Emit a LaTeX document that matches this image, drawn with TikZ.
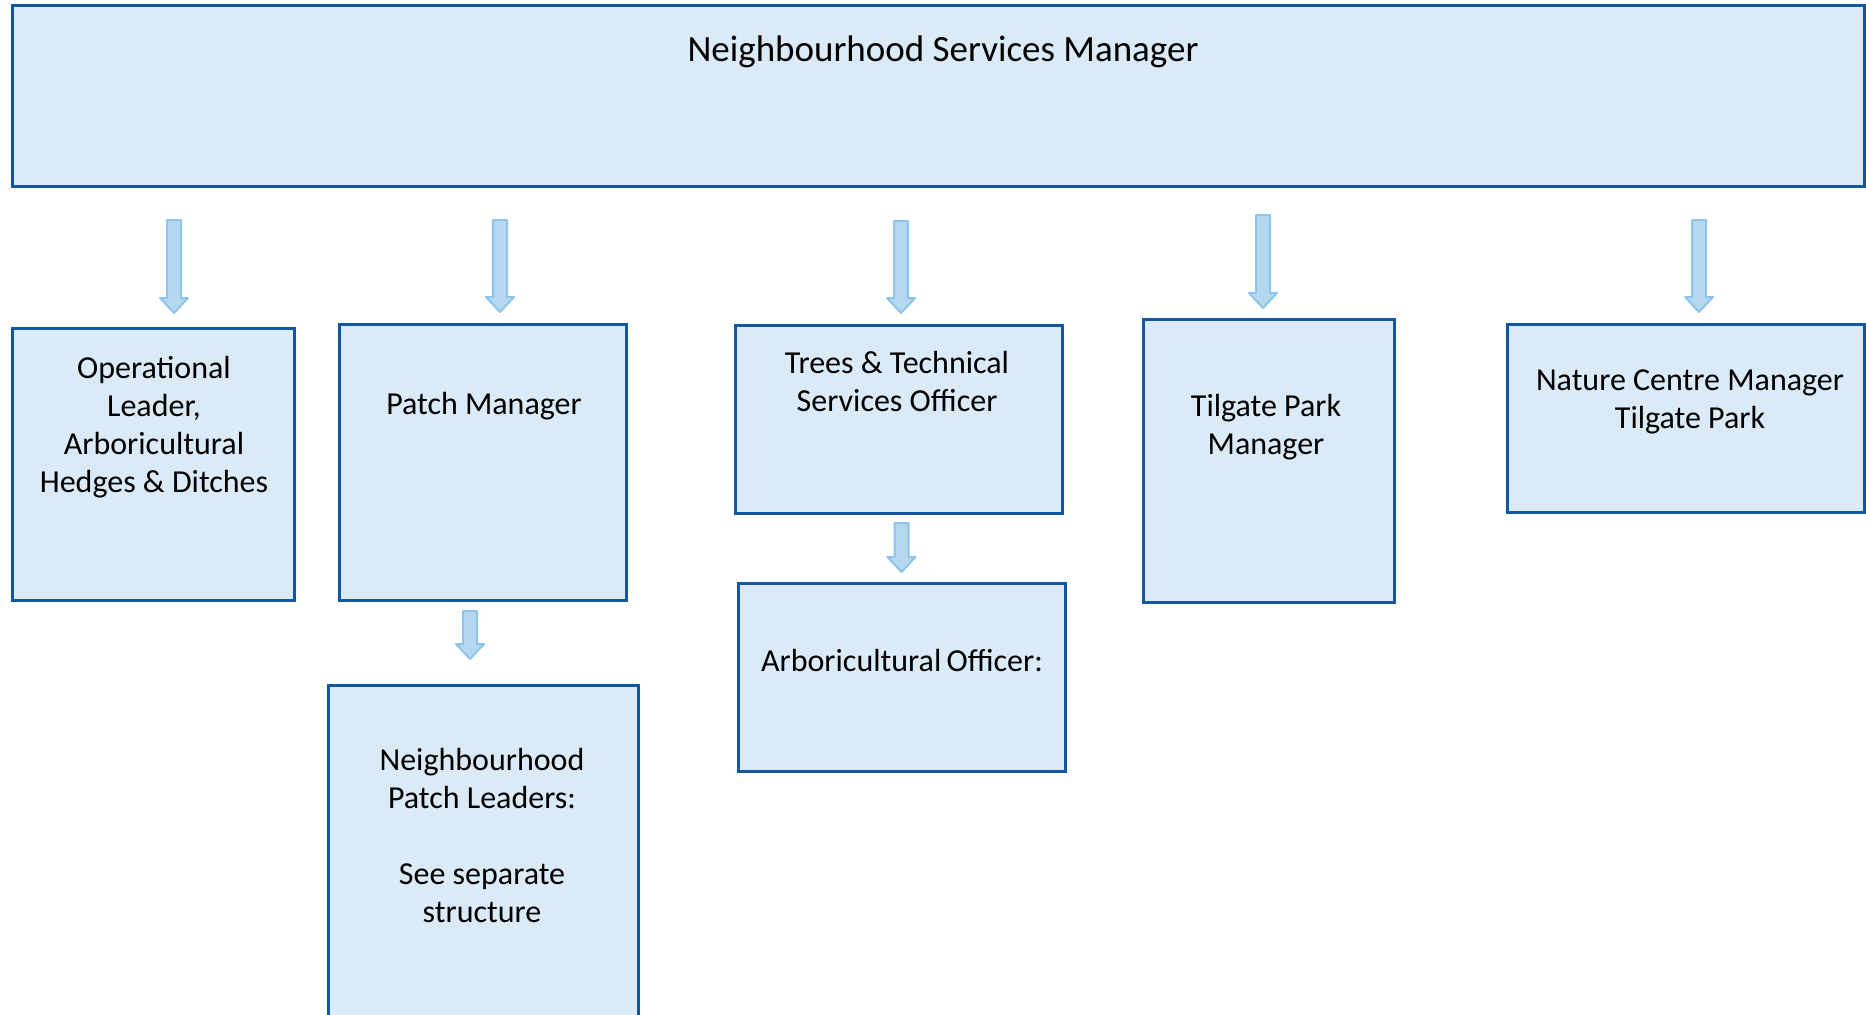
\documentclass[tikz,border=0pt]{standalone}
\usepackage{fontspec}
\setmainfont{Carlito}
\definecolor{boxfill}{HTML}{DAEAF7}
\definecolor{boxline}{HTML}{1258A0}
\definecolor{arrfill}{HTML}{B5D8F1}
\definecolor{arrline}{HTML}{8FC4EA}
\tikzset{
  orgbox/.style={draw=boxline, fill=boxfill, line width=1.5pt, rectangle, inner sep=0pt, outer sep=0pt},
  txt/.style={align=center, inner sep=0pt, font=\fontsize{16}{19}\selectfont},
  toptxtstyle/.style={align=center, inner sep=0pt, font=\fontsize{18.5}{22}\selectfont},
  blockarr/.style={draw=arrline, fill=arrfill, line width=1pt, line join=round}
}
% name, x1, y1, x2, y2 (pixel coords, y downward)
\newcommand{\orgboxat}[5]{\node[orgbox, minimum width={(#4-#2)*0.5pt}, minimum height={(#5-#3)*0.5pt}] (#1) at ({(#2+#4)/2},{(#3+#5)/2}) {};}
% x, ytop, ytip
\newcommand{\blkarrow}[3]{\draw[blockarr] ({#1-7},#2) -- ({#1+7},#2) -- ({#1+7},{#3-15}) -- ({#1+14},{#3-15}) -- (#1,#3) -- ({#1-14},{#3-15}) -- ({#1-7},{#3-15}) -- cycle;}
\begin{document}
\begin{tikzpicture}[x=0.5pt,y=-0.5pt]
\useasboundingbox (0,0) rectangle (1866,1014);
\begin{scope}
\clip (0,0) rectangle (1866,1014);
\orgboxat{top}{12}{5}{1864}{186}
\orgboxat{ops}{12}{328}{294}{600}
\orgboxat{patch}{339}{324}{626}{600}
\orgboxat{trees}{735}{325}{1062}{513}
\orgboxat{arbo}{738}{583}{1065}{771}
\orgboxat{tilgate}{1143}{319}{1394}{602}
\orgboxat{nature}{1507}{324}{1864}{512}
\orgboxat{leaders}{328}{685}{638}{1030}
\end{scope}

\node[toptxtstyle] (toptxt) at (943,52) {Neighbourhood Services Manager};
\node[txt] (opstxt) at (154,427) {Operational\\Leader,\\Arboricultural\\Hedges \& Ditches};
\node[txt] (patchtxt) at (484,406) {Patch Manager};
\node[txt] (treestxt) at (897,381) {Trees \& Technical\\Services Officer};
\node[txt] (arbotxt) at (902,660) {Arboricultural\,Officer:};
\node[txt] (tilgatetxt) at (1266,427) {Tilgate Park\\Manager};
\node[txt] (naturetxt) at (1690,402) {Nature Centre Manager\\Tilgate Park};
\node[txt] (leaderstxt) at (482,835) {Neighbourhood\\Patch Leaders:\\[19pt]See separate\\structure};

\blkarrow{174}{220}{313}
\blkarrow{500}{220}{312}
\blkarrow{901}{221}{313}
\blkarrow{1263}{215}{308}
\blkarrow{1699}{220}{312}
\blkarrow{470}{611}{659}
\blkarrow{901.5}{523}{572}
\end{tikzpicture}
\end{document}
